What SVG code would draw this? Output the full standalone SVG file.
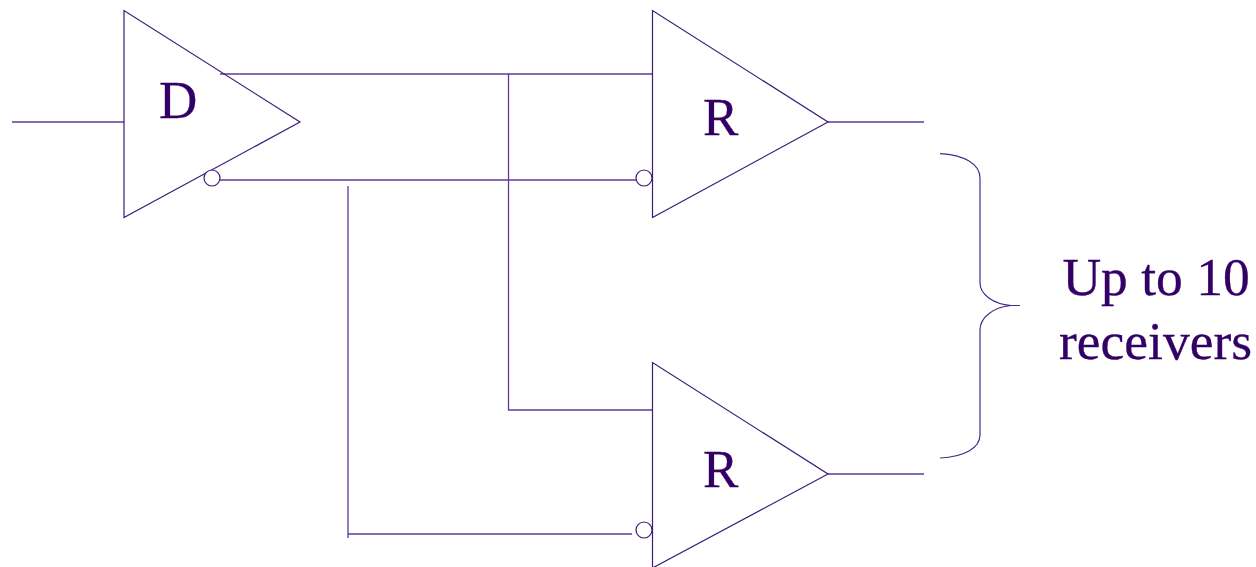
<svg xmlns="http://www.w3.org/2000/svg" width="1256" height="567" viewBox="0 0 1256 567">
<style>
.l{fill:none;stroke:#5f3a96;stroke-width:1.3}
.s{fill:none;stroke:#3c1a78;stroke-width:1.2}
.c{fill:#fff;stroke:#3c1a78;stroke-width:1.2}
.b{fill:none;stroke:#4b2a85;stroke-width:1.2}
text{font-family:"Liberation Serif","Times New Roman",serif;fill:#330066;stroke:#330066;stroke-width:.3}
.n{font-size:53px}
.t{font-size:53.500px;text-anchor:middle}
</style>
<rect width="1256" height="567" fill="#fff"/>
<g id="connectors">
<path class="l" d="M12 122H124"/>
<path class="l" d="M220 74H652"/>
<path class="l" d="M220 180H636"/>
<path class="l" d="M508.500 74V410H652"/>
<path class="l" d="M348 186V538M348 534H632"/>
<path class="l" d="M828 122H924"/>
<path class="l" d="M828 474H924"/>
</g>
<g id="driver">
<path class="s" d="M124 10.500V217.500L300 122Z"/>
<circle class="c" cx="212" cy="178" r="8"/>
<text class="n" x="159" y="118">D</text>
</g>
<g id="receiver-1">
<path class="s" d="M652.500 10.500V217.500L828 122Z"/>
<circle class="c" cx="644" cy="178" r="8"/>
<text class="n" x="703" y="135">R</text>
</g>
<g id="receiver-2">
<path class="s" d="M652.500 362.500V568L828 474Z"/>
<circle class="c" cx="644" cy="530" r="8"/>
<text class="n" x="703" y="487">R</text>
</g>
<g id="brace">
<path class="b" d="M940 153.700C964 155 980 164 980 178V283C980 295 994 304 1011 305.500H1020H1011C994 307 980 317 980 330V435C980 448 964 457 940 458"/>
<text class="t" x="1156" y="295">Up to 10</text>
<text class="t" x="1155.500" y="359">receivers</text>
</g>
</svg>
